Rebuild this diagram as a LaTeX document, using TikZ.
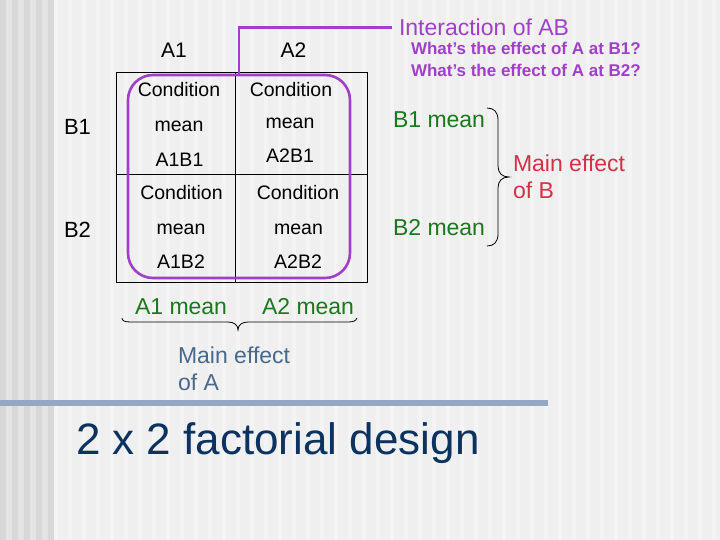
\documentclass[tikz,border=0pt]{standalone}
\usepackage{fontspec}
\setmainfont{Liberation Sans}
\definecolor{bgmain}{RGB}{239,239,239}
\definecolor{bgstripe}{RGB}{244,244,244}
\definecolor{banddark}{RGB}{216,216,216}
\definecolor{bandlight}{RGB}{228,228,228}
\definecolor{ipurple}{RGB}{160,64,200}
\definecolor{mgreen}{RGB}{28,120,28}
\definecolor{mred}{RGB}{212,48,72}
\definecolor{mblue}{RGB}{70,105,140}
\definecolor{tnavy}{RGB}{12,50,95}
\definecolor{barcol}{RGB}{148,168,196}
\newcommand{\fsz}[1]{\fontsize{#1}{#1}\selectfont}
\begin{document}
\begin{tikzpicture}[x=1pt,y=-1pt,
  txt/.style={inner sep=0pt,outer sep=0pt,anchor=base},
  txtl/.style={inner sep=0pt,outer sep=0pt,anchor=base west},
  hdr/.style={txt,font=\fsz{21}},
  cell/.style={txt,font=\fsz{19.5}},
  meanlbl/.style={txtl,font=\fsz{23},text=mgreen},
  grid/.style={draw=black,line width=0.8pt},
  brc/.style={draw=black,line width=0.8pt},
  purp/.style={draw=ipurple,line width=2.6pt}]
\useasboundingbox (0,0) rectangle (720,540);
% background
\fill[bgmain] (0,0) rectangle (720,540);
\foreach \i in {0,2,...,94} {\fill[bgstripe] (54+\i*7,0) rectangle (57.5+\i*7,540);}
\foreach \i in {0,2,4,6,8} {\fill[banddark] (\i*6,0) rectangle (\i*6+6,540);}
\foreach \i in {1,3,5,7} {\fill[bandlight] (\i*6,0) rectangle (\i*6+6,540);}
% bar
\fill[barcol] (0,400) rectangle (548,406);
% grid
\draw[grid] (116,72) rectangle (367,282);
\draw[grid] (116,174) -- (367,174);
\draw[grid] (235,72) -- (235,282);
% headers
\node[hdr] (a1) at (174,58) {A1};
\node[hdr] (a2) at (293.5,58) {A2};
\node[txtl,font=\fsz{22}] (b1) at (64,135) {B1};
\node[txtl,font=\fsz{22}] (b2) at (64,237) {B2};
% cells
\node[cell] (c11a) at (179,97) {Condition};
\node[cell] (c11b) at (179,132) {mean};
\node[cell] (c11c) at (179.5,167) {A1B1};
\node[cell] (c21a) at (291,97) {Condition};
\node[cell] (c21b) at (290,129) {mean};
\node[cell] (c21c) at (290,163) {A2B1};
\node[cell] (c12a) at (181.5,200) {Condition};
\node[cell] (c12b) at (181,235) {mean};
\node[cell] (c12c) at (181,268) {A1B2};
\node[cell] (c22a) at (298,200) {Condition};
\node[cell] (c22b) at (298.5,235) {mean};
\node[cell] (c22c) at (298,268) {A2B2};
% purple interaction
\node[purp,rounded corners=25pt,minimum width=222pt,minimum height=203pt,inner sep=0pt] (ab) at (239,176.5) {};
\node[txtl,font=\fsz{23},text=ipurple] (inter) at (399,36) {Interaction of AB};
\draw[purp] (ab.north) |- ([xshift=-7pt]inter.west);
\node[txtl,font=\bfseries\fsz{17},text=ipurple] (q1) at (411,55) {What’s the effect of A at B1?};
\node[txtl,font=\bfseries\fsz{17},text=ipurple] (q2) at (411,77) {What’s the effect of A at B2?};
% B means and brace
\node[meanlbl] (b1m) at (393,128) {B1 mean};
\node[meanlbl] (b2m) at (393,236) {B2 mean};
\draw[brc] (487,108) .. controls (494,108) and (498,112) .. (498,120) -- (498,166)
  .. controls (498,173) and (502,177) .. (509,177)
  .. controls (502,177) and (498,181) .. (498,188) -- (498,234)
  .. controls (498,242) and (494,246) .. (487,246);
\node[txtl,font=\fsz{23},text=mred] (meb1) at (513,172) {Main effect};
\node[txtl,font=\fsz{23},text=mred] (meb2) at (513,199) {of B};
% A means and brace
\node[meanlbl] (a1m) at (135,314) {A1 mean};
\node[meanlbl] (a2m) at (262,314) {A2 mean};
\draw[brc] (122,318) .. controls (122,321) and (125,322) .. (131,322) -- (228,322)
  .. controls (234,322) and (238,325) .. (238,330)
  .. controls (238,325) and (242,322) .. (248,322) -- (348,322)
  .. controls (353,322) and (356,321) .. (357,318);
\node[txtl,font=\fsz{23},text=mblue] (mea1) at (178,363) {Main effect};
\node[txtl,font=\fsz{23},text=mblue] (mea2) at (178,390) {of A};
% title
\node[txtl,font=\fsz{44},text=tnavy] (title) at (76,454) {2 x 2 factorial design};
\end{tikzpicture}
\end{document}
